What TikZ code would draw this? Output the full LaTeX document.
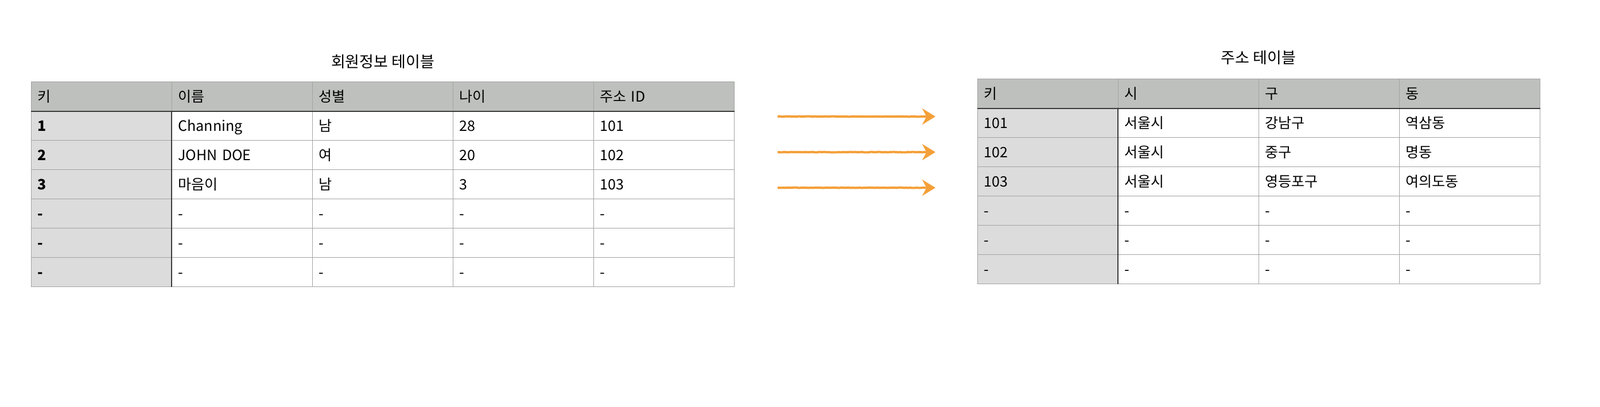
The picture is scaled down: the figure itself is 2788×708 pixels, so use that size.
\documentclass[tikz,border=0pt]{standalone}
\usepackage{fontspec}
\setmainfont{Noto Sans CJK KR}
\usetikzlibrary{arrows.meta,decorations.pathmorphing}
\definecolor{headgray}{RGB}{190,192,190}
\definecolor{keygray}{RGB}{220,220,220}
\definecolor{gridgray}{RGB}{163,163,163}
\definecolor{darkline}{RGB}{60,60,60}
\definecolor{crayon}{RGB}{244,160,58}
\tikzstyle{cell} = [draw=gridgray, line width=0.6pt, rectangle, anchor=north west,
    minimum width=122.5pt, minimum height=25.5pt, text width=111.5pt,
    inner xsep=5.5pt, inner ysep=0pt, align=left,
    font=\fontsize{12.5}{14}\selectfont, text height=11.3pt, text depth=2.2pt]
\tikzstyle{headcell} = [cell, fill=headgray]
\tikzstyle{keycell} = [cell, fill=keygray]
\tikzstyle{boldkey} = [keycell, font=\fontsize{12.5}{14}\selectfont\bfseries]
\tikzstyle{bodycell} = [cell, fill=white]
\tikzstyle{tabletitle} =[font=\fontsize{13.5}{16}\selectfont, inner sep=0pt]
\tikzstyle{linkarrow} = [draw=crayon, line width=2pt, -{Stealth[length=11.5pt, width=14pt]},
    decorate, decoration={random steps, segment length=1.5pt, amplitude=0.2pt, post length=6pt}]

\begin{document}
\begin{tikzpicture}[x=0.5pt, y=-0.5pt]
    \fill[white] (0,0) rectangle (2788,708);
    \useasboundingbox (0,0) rectangle (2788,708);

    % member table
    \node[tabletitle] (memtitle) at (667,107) {회원정보 테이블};
    \foreach \t [count=\i] in {키,이름,성별,나이,주소 ID}
        \node[headcell] (mem-0-\i) at ({54+245*(\i-1)},142) {\t};
    \foreach \a/\b/\c/\d/\e [count=\r] in {1/Channing/남/28/101, 2/JOHN DOE/여/20/102,
            3/마음이/남/3/103, -/-/-/-/-, -/-/-/-/-, -/-/-/-/-} {
        \node[boldkey] (mem-\r-1) at (54,{142+51*\r}) {\a};
        \node[bodycell] (mem-\r-2) at (299,{142+51*\r}) {\b};
        \node[bodycell] (mem-\r-3) at (544,{142+51*\r}) {\c};
        \node[bodycell] (mem-\r-4) at (789,{142+51*\r}) {\d};
        \node[bodycell] (mem-\r-5) at (1034,{142+51*\r}) {\e};
    }
    \draw[darkline, line width=0.8pt] (mem-0-1.south west) -- (mem-0-5.south east);
    \draw[darkline, line width=0.8pt] (mem-1-2.north west) -- (mem-6-2.south west);

    % address table
    \node[tabletitle] (addrtitle) at (2193,100) {주소 테이블};
    \foreach \t [count=\i] in {키,시,구,동}
        \node[headcell] (addr-0-\i) at ({1703+245*(\i-1)},137) {\t};
    \foreach \a/\b/\c/\d [count=\r] in {101/서울시/강남구/역삼동, 102/서울시/중구/명동,
            103/서울시/영등포구/여의도동, -/-/-/-, -/-/-/-, -/-/-/-} {
        \node[keycell] (addr-\r-1) at (1703,{137+51*\r}) {\a};
        \node[bodycell] (addr-\r-2) at (1948,{137+51*\r}) {\b};
        \node[bodycell] (addr-\r-3) at (2193,{137+51*\r}) {\c};
        \node[bodycell] (addr-\r-4) at (2438,{137+51*\r}) {\d};
    }
    \draw[darkline, line width=0.8pt] (addr-0-1.south west) -- (addr-0-4.south east);
    \draw[darkline, line width=0.8pt] (addr-1-2.north west) -- (addr-6-2.south west);

    % links
    \foreach \y [count=\k] in {203,265,327} {
        \coordinate (from\k) at (1355,\y);
        \coordinate (to\k) at (1630,\y);
        \draw[linkarrow] (from\k) -- (to\k);
    }
\end{tikzpicture}
\end{document}
